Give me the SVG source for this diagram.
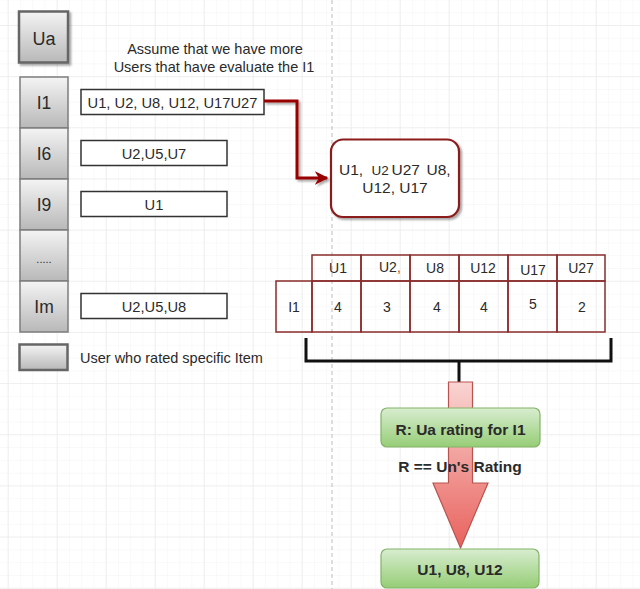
<svg xmlns="http://www.w3.org/2000/svg" width="640" height="589" viewBox="0 0 640 589">
<defs>
<pattern id="minor" x="7.7" y="25" width="12.25" height="12.79" patternUnits="userSpaceOnUse">
<path d="M0 0V12.79M0 0H12.25" fill="none" stroke="#f3f3f3" stroke-width="1"/>
</pattern>
<pattern id="major" x="7.7" y="25" width="49" height="51.15" patternUnits="userSpaceOnUse">
<path d="M0 0V51.15M0 0H49" fill="none" stroke="#e6e6e6" stroke-width="1"/>
</pattern>
<linearGradient id="gray" x1="0" y1="0" x2="0" y2="1">
<stop offset="0" stop-color="#f4f4f4"/>
<stop offset="1" stop-color="#b8b8b8"/>
</linearGradient>
<linearGradient id="green" x1="0" y1="0" x2="0" y2="1">
<stop offset="0" stop-color="#d8edd0"/>
<stop offset="1" stop-color="#96cd76"/>
</linearGradient>
<linearGradient id="red" x1="0" y1="0" x2="0" y2="1">
<stop offset="0" stop-color="#f9d4d2"/>
<stop offset="1" stop-color="#e9625d"/>
</linearGradient>
<marker id="ah" viewBox="0 0 10 10" refX="9" refY="5" markerWidth="4.5" markerHeight="4.5" orient="auto" markerUnits="strokeWidth">
<path d="M0 0L10 5L0 10L3 5Z" fill="#990000"/>
</marker>
<filter id="sh" x="-10%" y="-10%" width="130%" height="130%">
<feGaussianBlur in="SourceAlpha" stdDeviation="1.2"/>
<feOffset dx="2" dy="2" result="b"/>
<feComponentTransfer><feFuncA type="linear" slope="0.35"/></feComponentTransfer>
<feMerge><feMergeNode/><feMergeNode in="SourceGraphic"/></feMerge>
</filter>
</defs>
<style>
text{font-family:"Liberation Sans",Arial,sans-serif;fill:#2a2a2a}
.c{text-anchor:middle}
.gray{fill:url(#gray);stroke:#7d7d7d;stroke-width:1.5}
.grayk{fill:url(#gray);stroke:#666;stroke-width:2.5}
.tb{fill:#fff;stroke:#333;stroke-width:1.5}
.cell{fill:none;stroke:#8b2c2c;stroke-width:1.5}
.grn{fill:url(#green);stroke:#82b366;stroke-width:1.2}
.lbl{font-size:17.5px}
.val{font-size:14.7px}
.tv{font-size:14px}
.bold{font-weight:bold;font-size:15.5px}
</style>
<rect width="640" height="589" fill="#fff"/>
<rect width="640" height="589" fill="url(#minor)"/>
<rect width="640" height="589" fill="url(#major)"/>
<line x1="332" y1="0" x2="332" y2="589" stroke="#bdbdbd" stroke-width="1" stroke-dasharray="4 3"/>

<g id="ua">
<rect class="grayk" x="19" y="11.5" width="49" height="51" filter="url(#sh)"/>
<text class="c" x="44" y="45" font-size="18">Ua</text>
</g>

<g id="note">
<text class="c" x="215" y="54" font-size="14.5">Assume that we have more</text>
<text class="c" x="214" y="72" font-size="14.5">Users that have evaluate the I1</text>
</g>

<g id="item-I1"><rect class="gray" x="20" y="77" width="48" height="51"/><text class="c lbl" x="44" y="109">I1</text></g>
<g id="item-I6"><rect class="gray" x="20" y="128" width="48" height="51"/><text class="c lbl" x="44" y="160">I6</text></g>
<g id="item-I9"><rect class="gray" x="20" y="179" width="48" height="51"/><text class="c lbl" x="44" y="211">I9</text></g>
<g id="item-dots"><rect class="gray" x="20" y="230" width="48" height="51"/><text class="c" x="44" y="263" font-size="11">.....</text></g>
<g id="item-Im"><rect class="gray" x="20" y="281" width="48" height="51"/><text class="c lbl" x="44" y="313">Im</text></g>

<g id="list-I1"><rect class="tb" x="81" y="89.5" width="183" height="25"/><text class="c val" x="172.5" y="108">U1, U2, U8, U12, U17U27</text></g>
<g id="list-I6"><rect class="tb" x="81" y="140.5" width="146" height="25"/><text class="c val" x="154" y="159">U2,U5,U7</text></g>
<g id="list-I9"><rect class="tb" x="81" y="191.5" width="146" height="25"/><text class="c val" x="154" y="210">U1</text></g>
<g id="list-Im"><rect class="tb" x="81" y="293.5" width="146" height="25"/><text class="c val" x="154" y="312">U2,U5,U8</text></g>

<g id="legend">
<rect class="grayk" x="19.5" y="344.5" width="48" height="25.5"/>
<text x="80" y="362.5" font-size="14.5">User who rated specific Item</text>
</g>

<g id="connectors">
<path d="M264 101H297V178H327" fill="none" stroke="#990000" stroke-width="3" filter="url(#sh)" marker-end="url(#ah)"/>
<path d="M306 338V361H611V338M459 361V382" fill="none" stroke="#111" stroke-width="3"/>
</g>

<g id="result-set">
<rect x="331" y="139.5" width="128" height="77.5" rx="12" fill="#fff" stroke="#8b1a1a" stroke-width="2.2" filter="url(#sh)"/>
<text font-size="15.5"><tspan x="339" y="175">U1,</tspan><tspan x="371.5" y="175" font-size="13.5">U2</tspan><tspan x="391.5" y="175">U27</tspan><tspan x="426.5" y="175">U8,</tspan></text>
<text class="c" x="395" y="193" font-size="15.5">U12, U17</text>
</g>

<g id="rating-table">
<rect class="cell" x="312" y="255" width="49" height="26"/>
<rect class="cell" x="361" y="255" width="49" height="26"/>
<rect class="cell" x="410" y="255" width="49" height="26"/>
<rect class="cell" x="459" y="255" width="49" height="26"/>
<rect class="cell" x="508" y="255" width="49" height="26"/>
<rect class="cell" x="557" y="255" width="48" height="26"/>
<rect class="cell" x="276" y="281" width="36" height="51"/>
<rect class="cell" x="312" y="281" width="49" height="51"/>
<rect class="cell" x="361" y="281" width="49" height="51"/>
<rect class="cell" x="410" y="281" width="49" height="51"/>
<rect class="cell" x="459" y="281" width="49" height="51"/>
<rect class="cell" x="508" y="281" width="49" height="51"/>
<rect class="cell" x="557" y="281" width="48" height="51"/>
<text class="c tv" x="338" y="273">U1</text>
<text class="tv" x="379" y="272">U2<tspan fill="#c0392b">,</tspan></text>
<text class="c tv" x="435" y="273">U8</text>
<text class="c tv" x="483" y="273">U12</text>
<text class="c tv" x="533" y="275">U17</text>
<text class="c tv" x="581" y="273">U27</text>
<text class="c tv" x="294" y="312">I1</text>
<text class="c tv" x="338" y="312">4</text>
<text class="c tv" x="387" y="312">3</text>
<text class="c tv" x="437" y="312">4</text>
<text class="c tv" x="484" y="312">4</text>
<text class="c tv" x="533" y="309">5</text>
<text class="c tv" x="582" y="312">2</text>
</g>

<g id="big-arrow">
<path d="M448.5 382H472.5V483H488L460.5 548L433 483H448.5Z" fill="url(#red)" stroke="#b85450" stroke-width="1.2"/>
</g>

<g id="r-node">
<rect class="grn" x="381" y="408" width="159" height="39" rx="6"/>
<text class="c bold" x="460.5" y="435">R: Ua rating for I1</text>
</g>
<g id="r-label"><text class="c bold" x="460" y="472" fill="#111">R == Un's Rating</text></g>
<g id="final-node">
<rect class="grn" x="381" y="549" width="158" height="39" rx="6"/>
<text class="c bold" x="460" y="575">U1, U8, U12</text>
</g>
</svg>
